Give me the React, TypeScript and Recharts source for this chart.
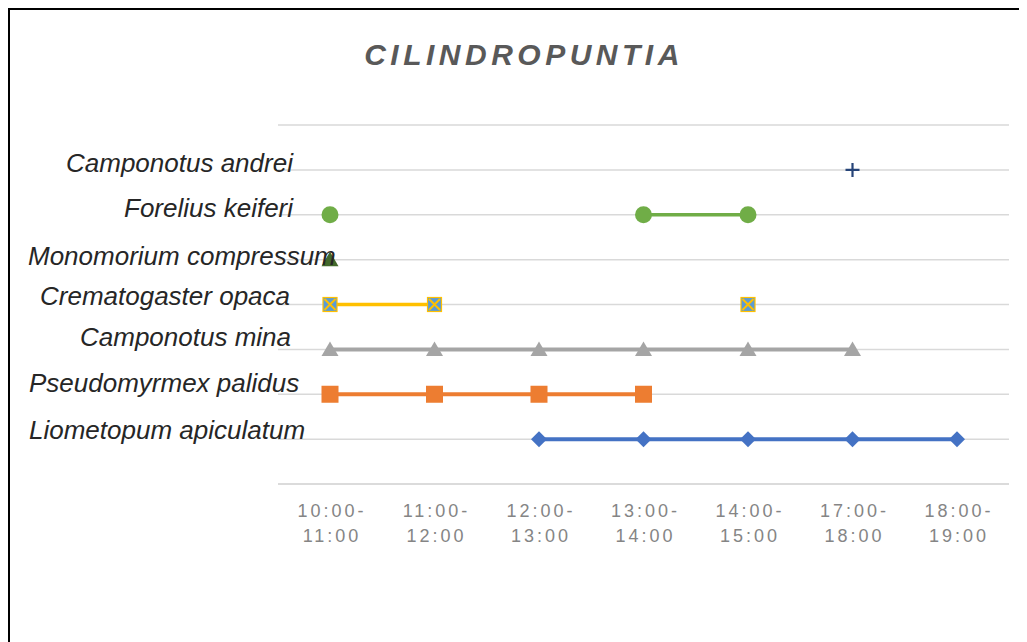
import React from 'react';
import { LineChart, Line, XAxis, YAxis, CartesianGrid } from 'recharts';

const slots = ['10:00-11:00', '11:00-12:00', '12:00-13:00', '13:00-14:00', '14:00-15:00', '17:00-18:00', '18:00-19:00'];

const liometopum = [null, null, 1, 1, 1, 1, 1];
const pseudomyrmex = [2, 2, 2, 2, null, null, null];
const camponotusMina = [3, 3, 3, 3, 3, 3, null];
const crematogaster = [4, 4, null, null, 4, null, null];
const monomorium = [5, null, null, null, null, null, null];
const forelius = [6, null, null, 6, 6, null, null];
const camponotusAndrei = [null, null, null, null, null, 7, null];

const speciesLabels = ['', 'Liometopum apiculatum', 'Pseudomyrmex palidus', 'Camponotus mina', 'Crematogaster opaca', 'Monomorium compressum', 'Forelius keiferi', 'Camponotus andrei', ''];
const levelTicks = [0, 1, 2, 3, 4, 5, 6, 7, 8];

// presentational layout for the free-standing row labels (svg x of label start, vertical offset)
const labelStartX = [0, 21, 21, 72, 32, 20, 116, 58, 0];
const labelDy = [0, -9, -11, -12, -9, -4, -7, -7, 0];

const data = slots.map((slot, i) => ({
  slot,
  liometopum: liometopum[i],
  pseudomyrmex: pseudomyrmex[i],
  camponotusMina: camponotusMina[i],
  crematogaster: crematogaster[i],
  monomorium: monomorium[i],
  forelius: forelius[i],
  camponotusAndrei: camponotusAndrei[i],
}));

const ok = (p: any) => p && p.value != null && p.cy != null && p.cx != null;

const Diamond = (p: any) => {
  if (!ok(p)) return <g key={p.key} />;
  const { cx, cy } = p;
  const r = 8;
  return <path key={p.key} d={`M${cx},${cy - r}L${cx + r},${cy}L${cx},${cy + r}L${cx - r},${cy}Z`} fill="#4472C4" />;
};
const Square = (p: any) => {
  if (!ok(p)) return <g key={p.key} />;
  const { cx, cy } = p;
  return <rect key={p.key} x={cx - 8.5} y={cy - 8.5} width={17} height={17} fill="#ED7D31" />;
};
const Tri = (color: string) => (p: any) => {
  if (!ok(p)) return <g key={p.key} />;
  const { cx, cy } = p;
  return <path key={p.key} d={`M${cx},${cy - 8}L${cx + 8.5},${cy + 6.5}L${cx - 8.5},${cy + 6.5}Z`} fill={color} />;
};
const XBox = (p: any) => {
  if (!ok(p)) return <g key={p.key} />;
  const { cx, cy } = p;
  const h = 7;
  return (
    <g key={p.key}>
      <rect x={cx - h} y={cy - h} width={2 * h} height={2 * h} fill="#5B9BD5" stroke="#FFC000" strokeWidth={1.2} />
      <path d={`M${cx - h + 1.5},${cy - h + 1.5}L${cx + h - 1.5},${cy + h - 1.5}M${cx + h - 1.5},${cy - h + 1.5}L${cx - h + 1.5},${cy + h - 1.5}`} stroke="#FFC000" strokeWidth={2} />
    </g>
  );
};
const Circ = (p: any) => {
  if (!ok(p)) return <g key={p.key} />;
  return <circle key={p.key} cx={p.cx} cy={p.cy} r={8.5} fill="#70AD47" />;
};
const Plus = (p: any) => {
  if (!ok(p)) return <g key={p.key} />;
  const { cx, cy } = p;
  return <path key={p.key} d={`M${cx - 7},${cy}L${cx + 7},${cy}M${cx},${cy - 7}L${cx},${cy + 7}`} stroke="#264478" strokeWidth={2.2} />;
};

const XTick = (props: any) => {
  const { x, y, payload } = props;
  const s: string = payload.value;
  const idx = s.indexOf('-');
  const l1 = s.slice(0, idx + 1);
  const l2 = s.slice(idx + 1);
  const st = { fontFamily: 'Liberation Sans', fontSize: 18, letterSpacing: 3, fill: '#858585' } as any;
  return (
    <g>
      <text x={x + 2} y={y + 25} textAnchor="middle" style={st}>{l1}</text>
      <text x={x + 2} y={y + 50} textAnchor="middle" style={st}>{l2}</text>
    </g>
  );
};

const YTick = (props: any) => {
  const { y, payload } = props;
  const v = payload.value as number;
  const name = speciesLabels[v];
  if (!name) return <g />;
  return (
    <text
      x={labelStartX[v]}
      y={y + labelDy[v]}
      dominantBaseline="central"
      textAnchor="start"
      style={{ fontFamily: 'Liberation Sans', fontStyle: 'italic', fontSize: 26, fill: '#262626' }}
    >
      {name}
    </text>
  );
};

export default function App() {
  return (
    <div style={{ position: 'relative', width: 1019, height: 634 }}>
      <LineChart width={1019} height={634} data={data} margin={{ top: 117, right: 18, left: 0, bottom: 78 }}>
        <text x={516} y={46} textAnchor="middle" dominantBaseline="central"
          style={{ fontFamily: 'Liberation Sans', fontWeight: 'bold', fontStyle: 'italic', fontSize: 30, letterSpacing: 4.5, fill: '#595959' }}>
          CILINDROPUNTIA
        </text>
        <CartesianGrid horizontal vertical={false} stroke="#d9d9d9" strokeWidth={1.5} />
        <XAxis dataKey="slot" type="category" padding={{ left: 52, right: 52 }} height={80} axisLine={{ stroke: '#d9d9d9', strokeWidth: 1.5 }} tickLine={false} tick={<XTick />} interval={0} />
        <YAxis type="number" domain={[0, 8]} ticks={levelTicks} width={270} axisLine={false} tickLine={false} tick={<YTick />} interval={0} />
        <Line dataKey="monomorium" stroke="#43682B" strokeWidth={3} dot={Tri('#43682B')} isAnimationActive={false} />
        <Line dataKey="liometopum" stroke="#4472C4" strokeWidth={4} dot={Diamond} isAnimationActive={false} />
        <Line dataKey="pseudomyrmex" stroke="#ED7D31" strokeWidth={4} dot={Square} isAnimationActive={false} />
        <Line dataKey="camponotusMina" stroke="#A5A5A5" strokeWidth={4} dot={Tri('#A5A5A5')} isAnimationActive={false} />
        <Line dataKey="crematogaster" stroke="#FFC000" strokeWidth={3.5} dot={XBox} isAnimationActive={false} />
        <Line dataKey="forelius" stroke="#70AD47" strokeWidth={3.5} dot={Circ} isAnimationActive={false} />
        <Line dataKey="camponotusAndrei" stroke="#264478" strokeWidth={3} dot={Plus} isAnimationActive={false} />
      </LineChart>
      <div style={{ position: 'absolute', left: 0, top: 0, width: 1019, height: 634, borderTop: '2px solid #000', borderLeft: '2px solid #000', boxSizing: 'border-box', pointerEvents: 'none' }} />
    </div>
  );
}
